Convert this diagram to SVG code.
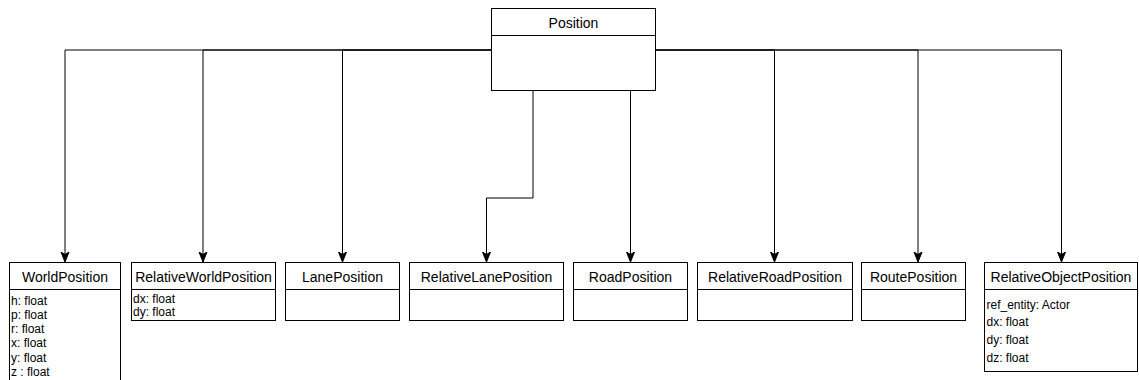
<svg xmlns="http://www.w3.org/2000/svg" width="1139" height="380" viewBox="0 0 1139 380">
  <style>
    .box { fill: #ffffff; stroke: #000000; stroke-width: 1; }
    .sep { stroke: #000000; stroke-width: 1; fill: none; }
    .title { font-family: "Liberation Sans", Arial, Helvetica, sans-serif; font-size: 14px; fill: #000000; text-anchor: middle; }
    .attr { font-family: "Liberation Sans", Arial, Helvetica, sans-serif; font-size: 12px; fill: #000000; }
    .edge { fill: none; stroke: #000000; stroke-width: 1; marker-end: url(#arrow); }
  </style>
  <defs>
    <marker id="arrow" markerUnits="userSpaceOnUse" viewBox="0 0 10 10" refX="10" refY="5" markerWidth="10" markerHeight="10" orient="auto">
      <path d="M0,1 L10,5 L0,9 L2.5,5 Z" fill="#000000" stroke="#000000" stroke-width="1"/>
    </marker>
  </defs>

  <rect width="1139" height="380" fill="#ffffff"/>

  <!-- inheritance connectors -->
  <g id="connectors">
    <path class="edge" d="M491.5,50 H65 V262"/>
    <path class="edge" d="M491.5,50 H203 V262"/>
    <path class="edge" d="M491.5,50 H342.5 V262"/>
    <path class="edge" d="M533,90.5 V198 H486.5 V262"/>
    <path class="edge" d="M630.5,90.5 V262"/>
    <path class="edge" d="M655.5,50 H774.5 V262"/>
    <path class="edge" d="M655.5,50 H918 V262"/>
    <path class="edge" d="M655.5,50 H1061.5 V262"/>
  </g>

  <g id="Position">
    <rect class="box" x="491.5" y="8.5" width="164" height="82"/>
    <line class="sep" x1="491.5" y1="35.5" x2="655.5" y2="35.5"/>
    <text class="title" x="573.5" y="28">Position</text>
  </g>

  <g id="WorldPosition">
    <rect class="box" x="9.5" y="262.5" width="111" height="125"/>
    <line class="sep" x1="9.5" y1="289.5" x2="120.5" y2="289.5"/>
    <text class="title" x="65" y="282">WorldPosition</text>
    <text class="attr" x="11" y="304.5">h: float</text>
    <text class="attr" x="11" y="318.8">p: float</text>
    <text class="attr" x="11" y="333.1">r: float</text>
    <text class="attr" x="11" y="347.4">x: float</text>
    <text class="attr" x="11" y="361.7">y: float</text>
    <text class="attr" x="11" y="376">z : float</text>
  </g>

  <g id="RelativeWorldPosition">
    <rect class="box" x="131.5" y="262.5" width="144" height="58"/>
    <line class="sep" x1="131.5" y1="289.5" x2="275.5" y2="289.5"/>
    <text class="title" x="203.5" y="282">RelativeWorldPosition</text>
    <text class="attr" x="133" y="302.5">dx: float</text>
    <text class="attr" x="133" y="315.5">dy: float</text>
  </g>

  <g id="LanePosition">
    <rect class="box" x="285.5" y="262.5" width="114" height="58"/>
    <line class="sep" x1="285.5" y1="289.5" x2="399.5" y2="289.5"/>
    <text class="title" x="342.5" y="282">LanePosition</text>
  </g>

  <g id="RelativeLanePosition">
    <rect class="box" x="409.5" y="262.5" width="154" height="58"/>
    <line class="sep" x1="409.5" y1="289.5" x2="563.5" y2="289.5"/>
    <text class="title" x="486.5" y="282">RelativeLanePosition</text>
  </g>

  <g id="RoadPosition">
    <rect class="box" x="573.5" y="262.5" width="114" height="58"/>
    <line class="sep" x1="573.5" y1="289.5" x2="687.5" y2="289.5"/>
    <text class="title" x="630.5" y="282">RoadPosition</text>
  </g>

  <g id="RelativeRoadPosition">
    <rect class="box" x="697.5" y="262.5" width="155" height="58"/>
    <line class="sep" x1="697.5" y1="289.5" x2="852.5" y2="289.5"/>
    <text class="title" x="775" y="282">RelativeRoadPosition</text>
  </g>

  <g id="RoutePosition">
    <rect class="box" x="861.5" y="262.5" width="104" height="58"/>
    <line class="sep" x1="861.5" y1="289.5" x2="965.5" y2="289.5"/>
    <text class="title" x="913.5" y="282">RoutePosition</text>
  </g>

  <g id="RelativeObjectPosition">
    <rect class="box" x="984.5" y="262.5" width="153" height="109"/>
    <line class="sep" x1="984.5" y1="289.5" x2="1137.5" y2="289.5"/>
    <text class="title" x="1061" y="282">RelativeObjectPosition</text>
    <text class="attr" x="986.5" y="308.5">ref_entity: Actor</text>
    <text class="attr" x="986.5" y="326.2">dx: float</text>
    <text class="attr" x="986.5" y="343.9">dy: float</text>
    <text class="attr" x="986.5" y="361.6">dz: float</text>
  </g>
</svg>
